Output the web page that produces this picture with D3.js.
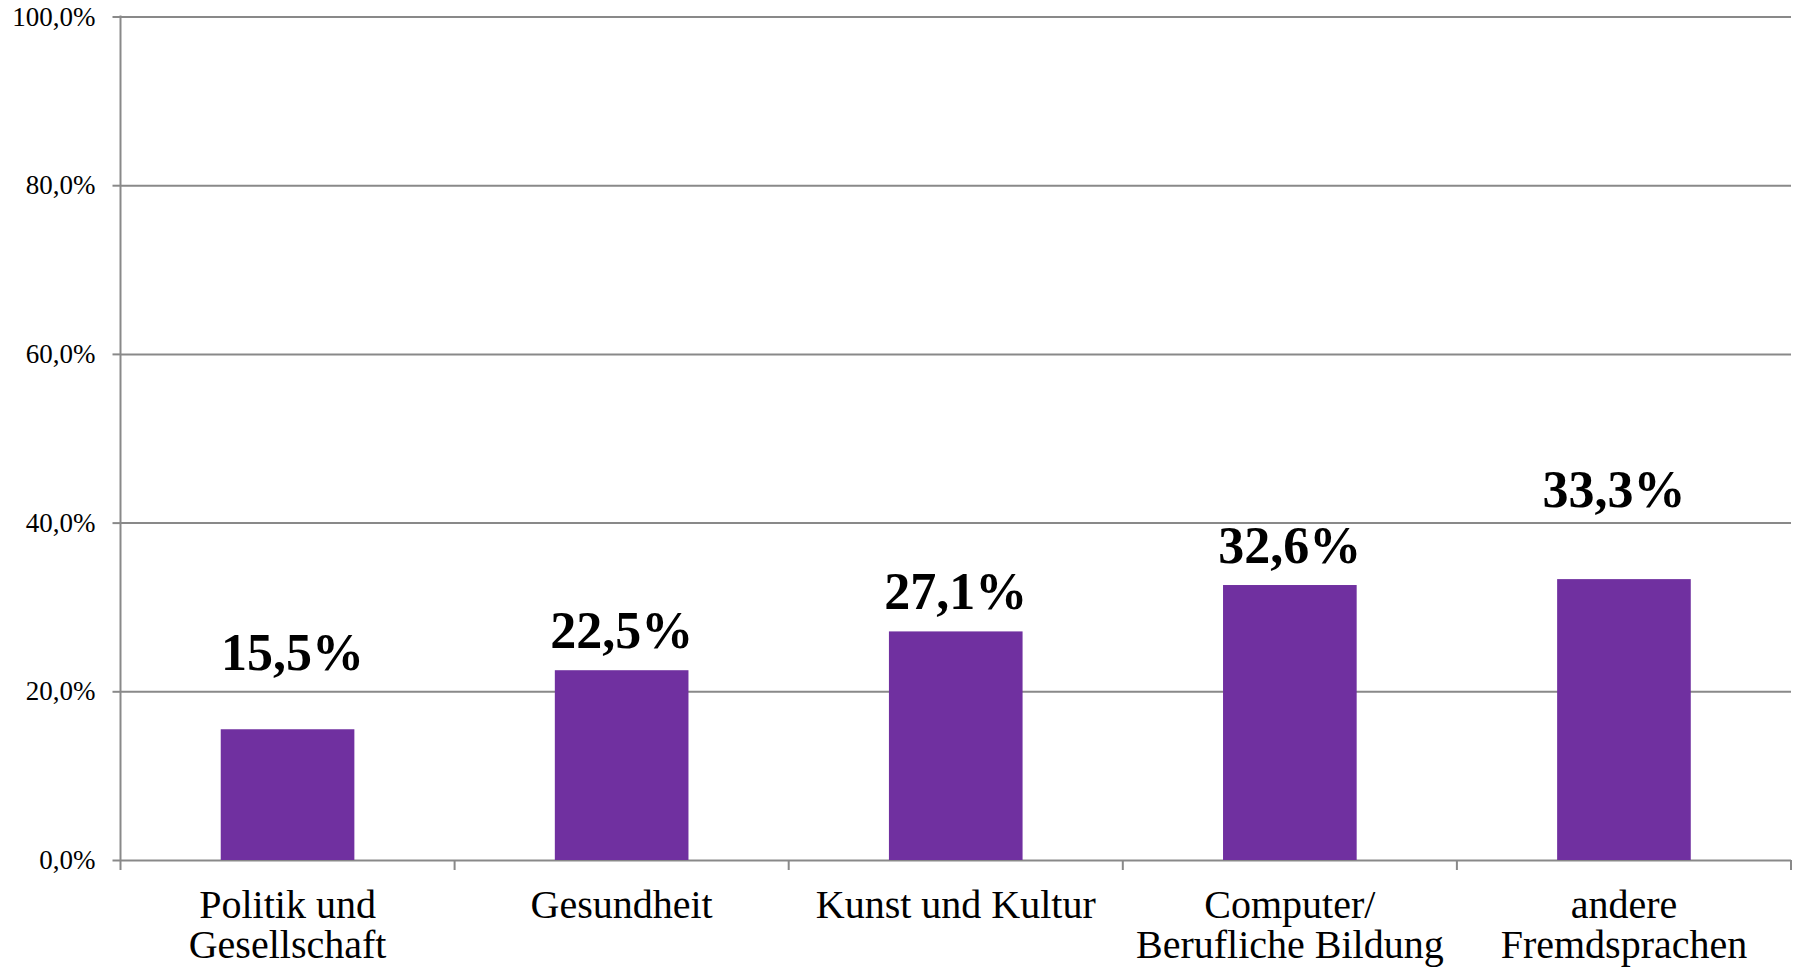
<!DOCTYPE html>
<html>
<head>
<meta charset="utf-8">
<script src="https://cdn.jsdelivr.net/npm/d3@7"></script>
<style>
  body { margin: 0; background: #fff; }
  svg { display: block; font-family: "Liberation Serif", serif; }
</style>
</head>
<body>
<div id="chart"></div>
<script>
// data
const categories = [
    ["Politik und", "Gesellschaft"],
    ["Gesundheit"],
    ["Kunst und Kultur"],
    ["Computer/", "Berufliche Bildung"],
    ["andere", "Fremdsprachen"]
];
const values = [15.5, 22.5, 27.1, 32.6, 33.3];
const yTicks = [0, 20, 40, 60, 80, 100];

// layout
let width = 1800,
    height = 968,
    plotLeft = 120.5,
    plotRight = 1791,
    plotTop = 16.5,
    plotBottom = 860,
    tickLen = 8,
    barColor = "#7030a0",
    gridColor = "#898989",
    labelGap = 22;

// hand-moved data labels (dx, dy) as in the original
const labelNudge = [[5, -37], [0, 0], [0, 0], [0, 0], [-10, -50]];

const locale = d3.formatLocale({decimal: ",", thousands: ".", grouping: [3], currency: ["", "€"]});
const fmt = v => locale.format(".1f")(v) + "%";

const svg = d3.select("#chart").append("svg")
    .attr("width", width)
    .attr("height", height);

const x = d3.scaleBand()
    .domain(d3.range(categories.length))
    .range([plotLeft, plotRight])
    .paddingInner(0.6)
    .paddingOuter(0.3);

const y = d3.scaleLinear()
    .domain([0, 100])
    .range([plotBottom, plotTop]);

// gridlines
svg.append("g")
    .attr("class", "grid")
    .attr("transform", `translate(${plotLeft},0)`)
    .call(d3.axisLeft(y).tickValues(yTicks).tickSize(-(plotRight - plotLeft)).tickFormat(""))
    .call(g => g.select(".domain").remove())
    .call(g => g.selectAll("line").attr("stroke", gridColor).attr("stroke-width", 2));

// y axis with labels
svg.append("g")
    .attr("class", "y-axis")
    .attr("transform", `translate(${plotLeft},0)`)
    .call(d3.axisLeft(y).tickValues(yTicks).tickSize(tickLen).tickPadding(17).tickFormat(fmt))
    .call(g => g.select(".domain").remove())
    .call(g => g.selectAll("line").attr("stroke", gridColor).attr("stroke-width", 2))
    .call(g => g.selectAll("text")
        .attr("fill", "#000")
        .style("font-size", "27px")
        .style("font-family", "'Liberation Serif', serif"));

svg.append("line")
    .attr("x1", plotLeft).attr("x2", plotLeft)
    .attr("y1", y(100) - 1).attr("y2", y(0) + tickLen + 2)
    .attr("stroke", gridColor)
    .attr("stroke-width", 2);

// category boundary ticks
const bounds = categories.map((c, i) => x(i) - x.step() * x.paddingOuter()).concat([plotRight]);
svg.append("g")
    .selectAll("line")
    .data(bounds.slice(1))
    .enter().append("line")
    .attr("x1", d => d).attr("x2", d => d)
    .attr("y1", y(0)).attr("y2", y(0) + tickLen + 2)
    .attr("stroke", gridColor)
    .attr("stroke-width", 2);

// bars
svg.append("g")
    .selectAll("rect")
    .data(values)
    .enter().append("rect")
    .attr("x", (d, i) => x(i))
    .attr("width", x.bandwidth())
    .attr("y", d => y(d))
    .attr("height", d => y(0) - y(d))
    .attr("fill", barColor);

// data labels
svg.append("g")
    .selectAll("text")
    .data(values)
    .enter().append("text")
    .attr("x", (d, i) => x(i) + x.bandwidth() / 2 + labelNudge[i][0])
    .attr("y", (d, i) => y(d) - labelGap + labelNudge[i][1])
    .attr("text-anchor", "middle")
    .style("font-size", "52px")
    .style("font-weight", "bold")
    .text(fmt);

// category labels
const cat = svg.append("g")
    .selectAll("text")
    .data(categories)
    .enter().append("text")
    .attr("text-anchor", "middle")
    .attr("y", y(0) + 58)
    .style("font-size", "40px")
    .attr("fill", "#000");

cat.selectAll("tspan")
    .data((d, i) => d.map(t => ({t, i})))
    .enter().append("tspan")
    .attr("x", d => x(d.i) + x.bandwidth() / 2)
    .attr("dy", (d, j) => j === 0 ? 0 : 40)
    .text(d => d.t);
</script>
</body>
</html>
